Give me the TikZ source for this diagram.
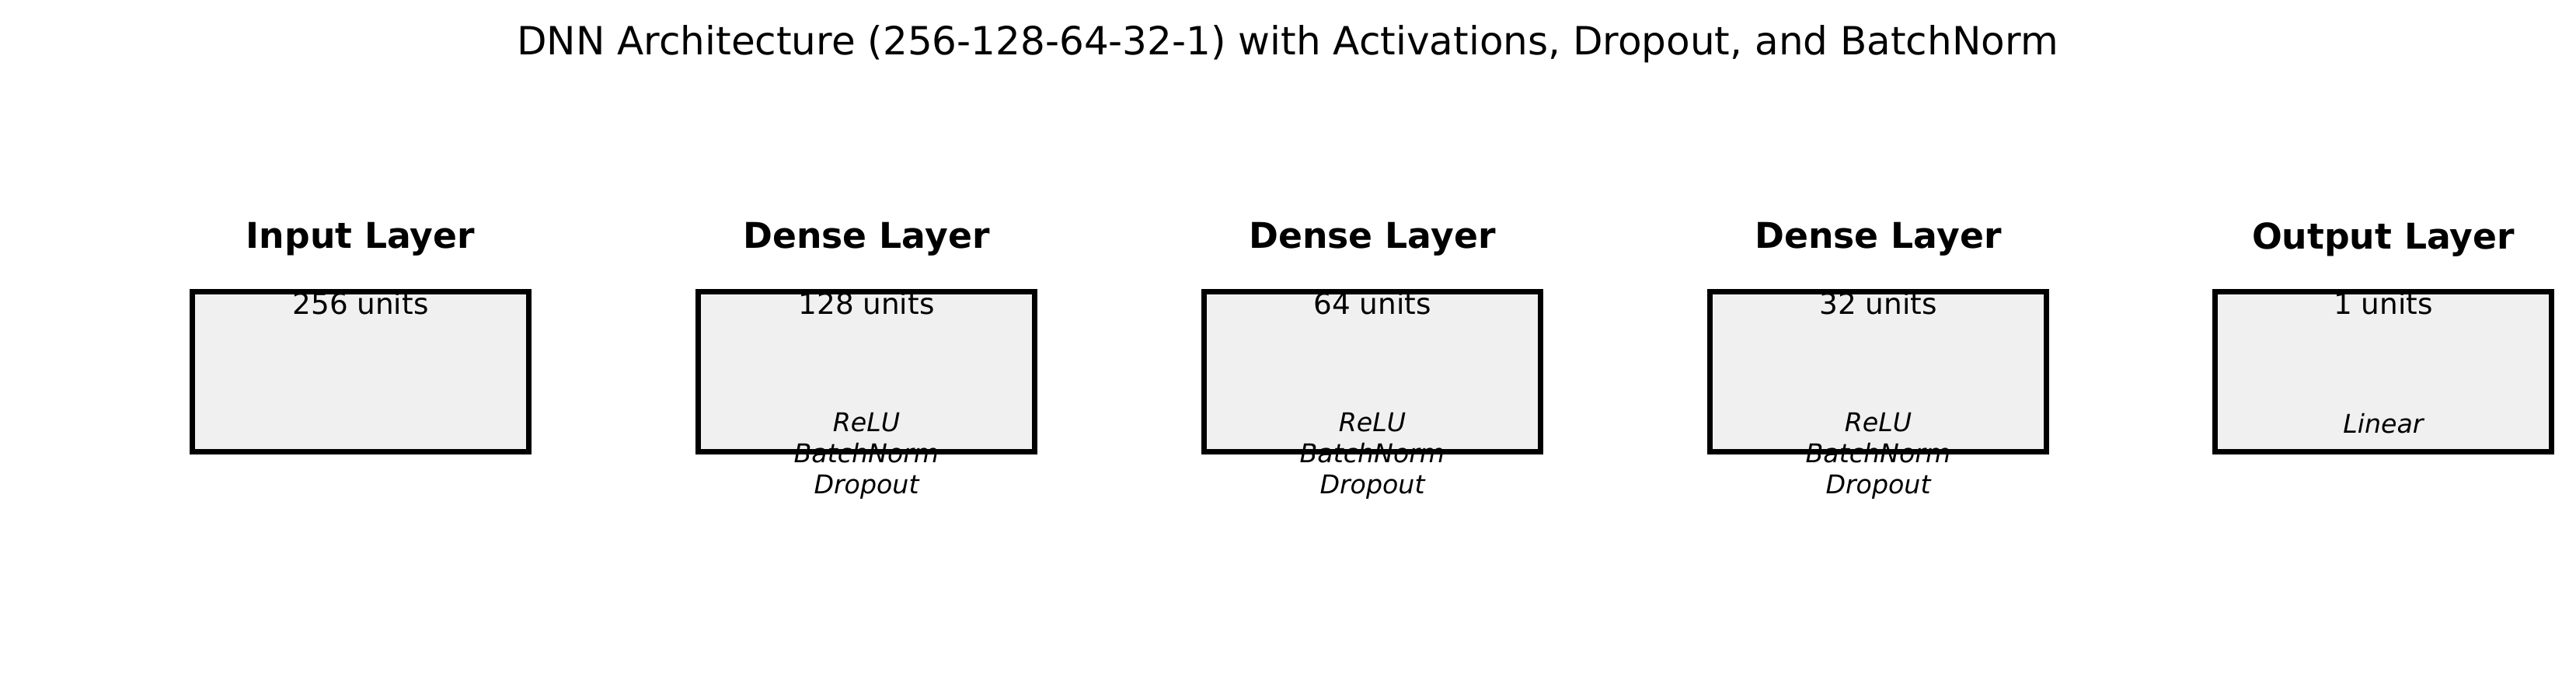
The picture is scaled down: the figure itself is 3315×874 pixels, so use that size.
\documentclass[tikz,border=0pt]{standalone}
\usepackage{fontspec}
\setmainfont{DejaVu Sans}
\definecolor{boxgray}{HTML}{F0F0F0}
\begin{document}
\begin{tikzpicture}[x=0.24bp,y=-0.24bp,
  layerbox/.style={draw=black, fill=boxgray, line width=1.7bp, minimum width=104bp, minimum height=49.6bp, inner sep=0pt},
  layername/.style={font=\fontsize{11}{13}\selectfont\bfseries, inner sep=0pt},
  unitstext/.style={font=\fontsize{9}{11}\selectfont, inner sep=0pt},
  acttext/.style={font=\fontsize{8}{9.6}\selectfont\itshape, align=center, inner sep=0pt},
  titletext/.style={font=\fontsize{12.05}{14}\selectfont, inner sep=0pt}]
\useasboundingbox (0,0) rectangle (3315,874);
\node[titletext] (title) at (1657,57) {DNN Architecture (256-128-64-32-1) with Activations, Dropout, and BatchNorm};
% boxes
\node[layerbox] (b1) at (464,478.5) {};
\node[layerbox] (b2) at (1115,478.5) {};
\node[layerbox] (b3) at (1766,478.5) {};
\node[layerbox] (b4) at (2417,478.5) {};
\node[layerbox] (b5) at (3067,478.5) {};
% layer names
\node[layername] (n1) at (464,308) {Input Layer};
\node[layername] (n2) at (1115,308) {Dense Layer};
\node[layername] (n3) at (1766,308) {Dense Layer};
\node[layername] (n4) at (2417,308) {Dense Layer};
\node[layername] (n5) at (3067,308) {Output Layer};
% units
\node[unitstext] (u1) at (464,391) {256 units};
\node[unitstext] (u2) at (1115,391) {128 units};
\node[unitstext] (u3) at (1766,391) {64 units};
\node[unitstext] (u4) at (2417,391) {32 units};
\node[unitstext] (u5) at (3067,391) {1 units};
% activations
\node[acttext] (a2) at (1115,587) {ReLU\\BatchNorm\\Dropout};
\node[acttext] (a3) at (1766,587) {ReLU\\BatchNorm\\Dropout};
\node[acttext] (a4) at (2417,587) {ReLU\\BatchNorm\\Dropout};
\node[acttext] (a5) at (3067,545) {Linear};
\end{tikzpicture}
\end{document}
